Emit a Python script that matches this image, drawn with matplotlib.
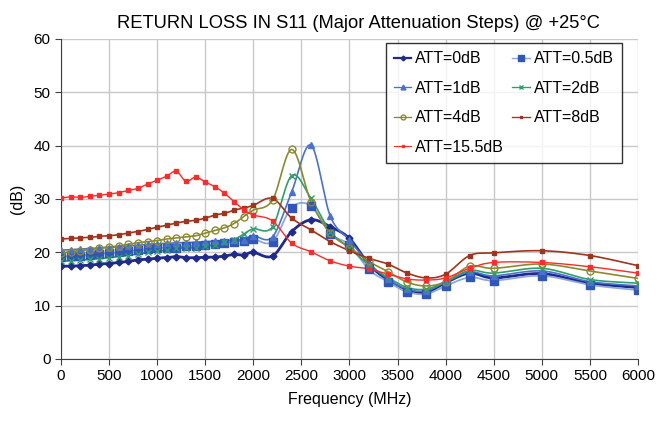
import numpy as np
import matplotlib
matplotlib.use('Agg')
import matplotlib.pyplot as plt

# frequency points (MHz)
freq = [0, 100, 200, 300, 400, 500, 600, 700, 800, 900, 1000, 1100, 1200, 1300, 1400,
        1500, 1600, 1700, 1800, 1900, 2000, 2200, 2400, 2600, 2800, 3000, 3200, 3400,
        3600, 3800, 4000, 4250, 4500, 5000, 5500, 6000]

# return loss (dB) per attenuation state
att_0 = [17.4, 17.4, 17.5, 17.6, 17.8, 17.9, 18.1, 18.3, 18.6, 18.7, 18.9, 19.0, 19.2, 19.0, 19.0,
         19.1, 19.1, 19.3, 19.6, 19.5, 20.0, 19.3, 23.9, 26.1, 24.8, 22.6, 17.8, 14.8,
         12.8, 12.5, 14.3, 16.1, 15.2, 16.0, 14.2, 13.4]
att_05 = [19.2, 19.3, 19.4, 19.5, 19.7, 19.8, 20.0, 20.2, 20.4, 20.6, 20.8, 20.9, 20.9, 21.2, 21.2,
          21.4, 21.5, 21.7, 22.0, 22.2, 22.5, 22.0, 28.4, 28.7, 23.5, 21.4, 16.8, 14.5,
          12.6, 12.2, 13.7, 15.3, 14.7, 15.6, 13.9, 12.9]
att_1 = [20.4, 20.5, 20.6, 20.7, 20.8, 20.9, 21.0, 21.2, 21.3, 21.5, 21.6, 21.7, 21.8, 21.8, 21.9,
         22.0, 22.1, 22.2, 22.3, 22.4, 23.1, 22.9, 31.4, 40.1, 26.8, 22.3, 18.0, 15.0,
         13.1, 12.8, 14.4, 16.3, 15.6, 16.5, 14.5, 13.7]
att_2 = [18.3, 18.4, 18.5, 18.7, 18.8, 19.0, 19.2, 19.4, 19.7, 20.0, 20.2, 20.4, 20.8, 20.8, 20.9,
         21.1, 21.4, 22.0, 22.4, 23.4, 24.4, 24.8, 34.4, 30.1, 23.9, 20.8, 17.6, 15.3,
         13.4, 13.1, 14.5, 16.6, 16.1, 17.0, 14.9, 14.2]
att_4 = [19.9, 20.1, 20.3, 20.5, 20.8, 21.0, 21.2, 21.5, 21.8, 22.0, 22.2, 22.5, 22.7, 22.9, 23.1,
         23.6, 24.1, 24.6, 25.4, 26.7, 27.9, 29.8, 39.3, 29.5, 23.6, 20.9, 18.3, 16.4,
         14.4, 13.7, 14.5, 17.4, 17.0, 17.8, 16.5, 15.1]
att_8 = [22.5, 22.6, 22.7, 22.8, 23.0, 23.1, 23.3, 23.6, 23.9, 24.3, 24.7, 25.1, 25.5, 25.8, 26.0,
         26.4, 27.0, 27.3, 27.9, 28.3, 28.8, 30.1, 26.4, 24.2, 22.0, 20.3, 18.9, 17.8,
         16.1, 15.2, 15.9, 19.4, 19.9, 20.3, 19.4, 17.5]
att_155 = [30.2, 30.4, 30.3, 30.5, 30.7, 30.9, 31.2, 31.6, 32.0, 32.8, 33.5, 34.3, 35.2, 33.3, 34.1,
           33.2, 32.3, 31.1, 29.5, 28.0, 27.0, 25.9, 21.7, 20.1, 18.4, 17.4, 16.9, 15.9,
           15.0, 14.8, 15.2, 17.0, 18.1, 18.1, 17.3, 16.1]


def smooth(x, y, n=12):
    # Catmull-Rom style curve through the points (like Excel "smoothed line")
    x = np.asarray(x, float)
    y = np.asarray(y, float)
    px = np.concatenate([[2 * x[0] - x[1]], x, [2 * x[-1] - x[-2]]])
    py = np.concatenate([[2 * y[0] - y[1]], y, [2 * y[-1] - y[-2]]])
    xs, ys = [], []
    t = np.linspace(0, 1, n, endpoint=False)
    for i in range(1, len(px) - 2):
        p0, p1, p2, p3 = px[i - 1], px[i], px[i + 1], px[i + 2]
        q0, q1, q2, q3 = py[i - 1], py[i], py[i + 1], py[i + 2]
        t2, t3 = t * t, t * t * t
        xs.append(0.5 * (2 * p1 + (-p0 + p2) * t + (2 * p0 - 5 * p1 + 4 * p2 - p3) * t2 + (-p0 + 3 * p1 - 3 * p2 + p3) * t3))
        ys.append(0.5 * (2 * q1 + (-q0 + q2) * t + (2 * q0 - 5 * q1 + 4 * q2 - q3) * t2 + (-q0 + 3 * q1 - 3 * q2 + q3) * t3))
    xs.append([x[-1]])
    ys.append([y[-1]])
    return np.concatenate(xs), np.concatenate(ys)


plt.rcParams['font.family'] = ['Liberation Sans', 'DejaVu Sans']

fig = plt.figure(figsize=(6.57, 4.26), dpi=100)
ax = fig.add_axes([0.0928, 0.1573, 0.8782, 0.7512])

series = [
    # label, data, line colour, marker, marker face, marker edge, size, linewidth
    ('ATT=0dB', att_0, '#1f2a8a', 'D', '#1f2a8a', '#1f2a8a', 3.5, 2.0),
    ('ATT=0.5dB', att_05, '#8ea6dc', 's', '#2f56b8', '#2f56b8', 5.5, 1.3),
    ('ATT=1dB', att_1, '#4a72cc', '^', '#4a72cc', '#4a72cc', 5, 1.2),
    ('ATT=2dB', att_2, '#2e9f6c', 'x', '#2e9f6c', '#2e9f6c', 5, 1.2),
    ('ATT=4dB', att_4, '#8c8a2e', 'o', 'none', '#8c8a2e', 5, 1.2),
    ('ATT=8dB', att_8, '#a0341e', 's', '#a0341e', '#a0341e', 2.5, 1.2),
    ('ATT=15.5dB', att_155, '#ff2a2a', 's', '#ff2a2a', '#ff2a2a', 2.5, 1.0),
]

handles = {}
for label, vals, col, mk, mfc, mec, ms, lw in series:
    sx, sy = smooth(freq, vals)
    ax.plot(sx, sy, color=col, lw=lw, zorder=3)
    ax.plot(freq, vals, ls='none', marker=mk, ms=ms, mfc=mfc, mec=mec, mew=1.0, zorder=4)
    h, = ax.plot([], [], color=col, lw=lw * 0.8, marker=mk, ms=ms * 0.7, mfc=mfc, mec=mec, mew=1.0)
    handles[label] = h

ax.set_xlim(0, 6000)
ax.set_ylim(0, 60)
ax.set_xticks(range(0, 6001, 500))
ax.set_yticks(range(0, 61, 10))
ax.grid(True, color='#c8c8c8', lw=1.0)
ax.set_axisbelow(True)
for s in ['top', 'right']:
    ax.spines[s].set_visible(False)
ax.spines['left'].set_color('#404040')
ax.spines['bottom'].set_color('#404040')
ax.tick_params(axis='both', labelsize=11, direction='out', length=4, color='#404040')

ax.set_xlabel('Frequency (MHz)', fontsize=11.5, labelpad=6)
ax.set_ylabel('(dB)', fontsize=11.5, labelpad=6)
ax.set_title('RETURN LOSS IN S11 (Major Attenuation Steps) @ +25°C', fontsize=13.2, pad=8, x=0.515)

order = ['ATT=0dB', 'ATT=1dB', 'ATT=4dB', 'ATT=15.5dB', 'ATT=0.5dB', 'ATT=2dB', 'ATT=8dB']
leg = ax.legend([handles[k] for k in order], order, ncol=2, loc='upper left',
                bbox_to_anchor=(0.563, 0.986), fontsize=11.5, frameon=True, fancybox=False,
                edgecolor='black', handlelength=1.1, columnspacing=0.5, labelspacing=0.9,
                borderpad=0.5, handletextpad=0.25, borderaxespad=0.0)
leg.get_frame().set_linewidth(1.0)

fig.savefig('out.png', dpi=100)
